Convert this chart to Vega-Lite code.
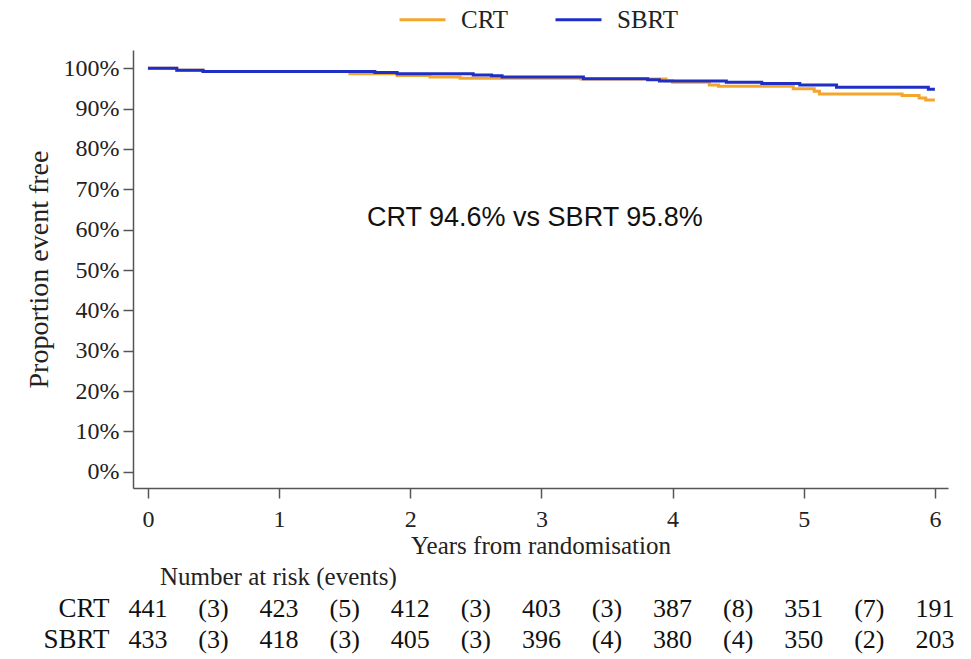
{
  "$schema": "https://vega.github.io/schema/vega-lite/v6.json",
  "background": "white",
  "padding": {"left": 25, "top": -5, "right": 5, "bottom": 0},
  "config": {
    "font": "Liberation Serif",
    "view": {"stroke": null},
    "axis": {"labelFont": "Liberation Serif", "titleFont": "Liberation Serif", "titleFontWeight": "normal", "labelColor": "#222", "titleColor": "#222", "domainColor": "#555", "tickColor": "#555", "domainWidth": 1.5, "tickWidth": 1.5, "grid": false},
    "legend": {"labelFont": "Liberation Serif"},
    "title": {"font": "Liberation Serif", "fontWeight": "normal"},
    "concat": {"spacing": 7}
  },
  "datasets": {
    "km": [
      {"group": "CRT", "t": 0, "p": 1.0},
      {"group": "CRT", "t": 0.22, "p": 0.995},
      {"group": "CRT", "t": 0.42, "p": 0.992},
      {"group": "CRT", "t": 1.54, "p": 0.986},
      {"group": "CRT", "t": 1.9, "p": 0.982},
      {"group": "CRT", "t": 2.15, "p": 0.978},
      {"group": "CRT", "t": 2.38, "p": 0.975},
      {"group": "CRT", "t": 3.3, "p": 0.973},
      {"group": "CRT", "t": 3.95, "p": 0.969},
      {"group": "CRT", "t": 4.0, "p": 0.965},
      {"group": "CRT", "t": 4.28, "p": 0.958},
      {"group": "CRT", "t": 4.35, "p": 0.955},
      {"group": "CRT", "t": 4.92, "p": 0.949},
      {"group": "CRT", "t": 5.08, "p": 0.943},
      {"group": "CRT", "t": 5.12, "p": 0.936},
      {"group": "CRT", "t": 5.75, "p": 0.932},
      {"group": "CRT", "t": 5.88, "p": 0.926},
      {"group": "CRT", "t": 5.93, "p": 0.921},
      {"group": "CRT", "t": 6.0, "p": 0.921},
      {"group": "SBRT", "t": 0, "p": 1.0},
      {"group": "SBRT", "t": 0.22, "p": 0.995},
      {"group": "SBRT", "t": 0.42, "p": 0.992},
      {"group": "SBRT", "t": 1.73, "p": 0.989},
      {"group": "SBRT", "t": 1.9, "p": 0.986},
      {"group": "SBRT", "t": 2.48, "p": 0.983},
      {"group": "SBRT", "t": 2.62, "p": 0.981},
      {"group": "SBRT", "t": 2.7, "p": 0.978},
      {"group": "SBRT", "t": 3.32, "p": 0.974},
      {"group": "SBRT", "t": 3.81, "p": 0.971},
      {"group": "SBRT", "t": 3.9, "p": 0.968},
      {"group": "SBRT", "t": 4.41, "p": 0.965},
      {"group": "SBRT", "t": 4.68, "p": 0.962},
      {"group": "SBRT", "t": 4.97, "p": 0.958},
      {"group": "SBRT", "t": 5.25, "p": 0.953},
      {"group": "SBRT", "t": 5.95, "p": 0.948},
      {"group": "SBRT", "t": 6.0, "p": 0.948}
    ],
    "risk": [
      {"group": "CRT", "t": 0, "label": "441"},
      {"group": "CRT", "t": 0.5, "label": "(3)"},
      {"group": "CRT", "t": 1, "label": "423"},
      {"group": "CRT", "t": 1.5, "label": "(5)"},
      {"group": "CRT", "t": 2, "label": "412"},
      {"group": "CRT", "t": 2.5, "label": "(3)"},
      {"group": "CRT", "t": 3, "label": "403"},
      {"group": "CRT", "t": 3.5, "label": "(3)"},
      {"group": "CRT", "t": 4, "label": "387"},
      {"group": "CRT", "t": 4.5, "label": "(8)"},
      {"group": "CRT", "t": 5, "label": "351"},
      {"group": "CRT", "t": 5.5, "label": "(7)"},
      {"group": "CRT", "t": 6, "label": "191"},
      {"group": "SBRT", "t": 0, "label": "433"},
      {"group": "SBRT", "t": 0.5, "label": "(3)"},
      {"group": "SBRT", "t": 1, "label": "418"},
      {"group": "SBRT", "t": 1.5, "label": "(3)"},
      {"group": "SBRT", "t": 2, "label": "405"},
      {"group": "SBRT", "t": 2.5, "label": "(3)"},
      {"group": "SBRT", "t": 3, "label": "396"},
      {"group": "SBRT", "t": 3.5, "label": "(4)"},
      {"group": "SBRT", "t": 4, "label": "380"},
      {"group": "SBRT", "t": 4.5, "label": "(4)"},
      {"group": "SBRT", "t": 5, "label": "350"},
      {"group": "SBRT", "t": 5.5, "label": "(2)"},
      {"group": "SBRT", "t": 6, "label": "203"}
    ]
  },
  "vconcat": [
    {
      "width": 815,
      "height": 438,
      "layer": [
        {
          "data": {"name": "km"},
          "mark": {"type": "line", "interpolate": "step-after", "strokeWidth": 3},
          "encoding": {
            "x": {"field": "t", "type": "quantitative", "scale": {"domain": [-0.114, 6.1], "nice": false, "zero": false},
              "axis": {"values": [0, 1, 2, 3, 4, 5, 6], "format": "d", "title": "Years from randomisation", "tickSize": 10, "labelFontSize": 24, "titleFontSize": 25, "labelPadding": 9, "titlePadding": 2}},
            "y": {"field": "p", "type": "quantitative", "scale": {"domain": [-0.04, 1.045], "nice": false, "zero": false},
              "axis": {"values": [0, 0.1, 0.2, 0.3, 0.4, 0.5, 0.6, 0.7, 0.8, 0.9, 1.0], "format": ".0%", "title": "Proportion event free", "tickSize": 10, "labelFontSize": 24, "titleFontSize": 28, "labelPadding": 4, "titlePadding": 10}},
            "color": {"field": "group", "type": "nominal", "scale": {"domain": ["CRT", "SBRT"], "range": ["#F4A62C", "#1F2FC6"]},
              "legend": {"orient": "none", "legendX": 265, "legendY": -55, "title": null, "direction": "horizontal", "symbolType": "stroke", "symbolSize": 2116, "symbolStrokeWidth": 3, "labelFontSize": 25, "labelOffset": 14, "columnPadding": 40, "labelColor": "#222"}}
          }
        },
        {
          "data": {"values": [{}]},
          "mark": {"type": "text", "font": "Liberation Sans", "fontSize": 27, "color": "#111", "align": "center", "baseline": "middle"},
          "encoding": {
            "x": {"datum": 2.95, "type": "quantitative"},
            "y": {"datum": 0.63, "type": "quantitative"},
            "text": {"value": "CRT 94.6% vs SBRT 95.8%"}
          }
        }
      ]
    },
    {
      "width": 815,
      "height": 62,
      "data": {"name": "risk"},
      "title": {"text": "Number at risk (events)", "anchor": "start", "frame": "group", "dx": 27, "fontSize": 25, "color": "#222", "offset": 3},
      "mark": {"type": "text", "fontSize": 26, "color": "#111", "baseline": "middle", "align": "center"},
      "encoding": {
        "x": {"field": "t", "type": "quantitative", "scale": {"domain": [-0.114, 6.1], "nice": false, "zero": false}, "axis": null},
        "y": {"field": "group", "type": "nominal", "sort": ["CRT", "SBRT"], "axis": {"title": null, "domain": false, "ticks": false, "labelFontSize": 27, "labelPadding": 24, "labelColor": "#111"}},
        "text": {"field": "label"}
      }
    }
  ]
}
